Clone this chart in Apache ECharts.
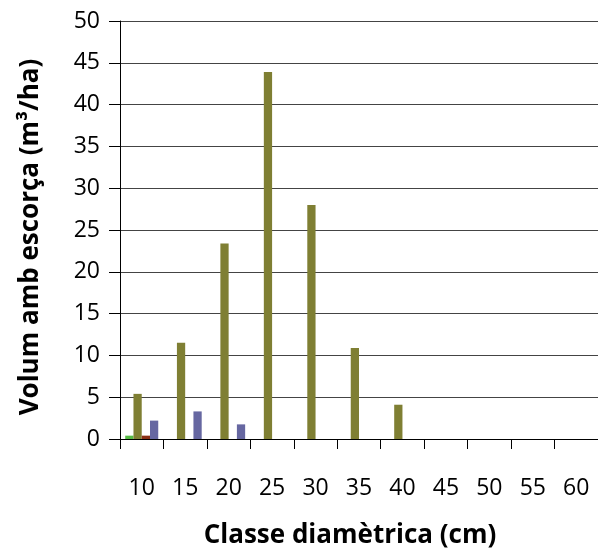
<!DOCTYPE html>
<html>
<head>
<meta charset="utf-8">
<script src="https://cdn.jsdelivr.net/npm/echarts@6/dist/echarts.min.js"></script>
<style>
  html, body { margin: 0; padding: 0; background: #fff; }
  #chart { width: 598px; height: 554px; }
</style>
</head>
<body>
<div id="chart"></div>
<script>
var classes = ['10', '15', '20', '25', '30', '35', '40', '45', '50', '55', '60'];
var greenVals = [0.4, null, null, null, null, null, null, null, null, null, null];
var oliveVals = [5.4, 11.5, 23.4, 43.9, 28.0, 10.9, 4.1, null, null, null, null];
var redVals = [0.4, null, null, null, null, null, null, null, null, null, null];
var blueVals = [2.2, 3.3, 1.75, null, null, null, null, null, null, null, null];

var font = '"Open Sans", "DejaVu Sans", sans-serif';

var chart = echarts.init(document.getElementById('chart'));

var option = {
    backgroundColor: '#fff',
    animation: false,
    grid: {
        left: 120,
        right: 0,
        top: 21,
        bottom: 112
    },
    xAxis: {
        type: 'category',
        data: classes,
        name: 'Classe diamètrica (cm)',
        nameLocation: 'middle',
        nameGap: 84,
        nameTextStyle: {
            fontFamily: font,
            fontSize: 26,
            fontWeight: 'bold',
            color: '#000',
            padding: [0, 18, 0, 0]
        },
        axisLine: { lineStyle: { color: '#000', width: 1 } },
        axisTick: { show: true, length: 10, lineStyle: { color: '#000' } },
        axisLabel: {
            margin: 38,
            fontFamily: font,
            fontSize: 23,
            color: '#000'
        },
        splitLine: { show: false }
    },
    yAxis: {
        type: 'value',
        min: 0,
        max: 50,
        interval: 5,
        name: 'Volum amb escorça (m³/ha)',
        nameLocation: 'middle',
        nameGap: 76,
        nameRotate: 90,
        nameTextStyle: {
            fontFamily: font,
            fontSize: 26,
            fontWeight: 'bold',
            color: '#000',
            padding: [0, 14, 0, 0]
        },
        axisLine: { show: true, lineStyle: { color: '#000', width: 1 } },
        axisTick: { show: true, length: 11, lineStyle: { color: '#000' } },
        axisLabel: {
            margin: 20,
            fontFamily: font,
            fontSize: 23,
            color: '#000'
        },
        splitLine: { show: true, lineStyle: { color: '#444', width: 1 } }
    },
    series: [
        {
            name: 'a',
            type: 'bar',
            data: greenVals,
            itemStyle: { color: '#55bb44' },
            barGap: '0%',
            barCategoryGap: '24%'
        },
        {
            name: 'b',
            type: 'bar',
            data: oliveVals,
            itemStyle: { color: '#7f7f33' }
        },
        {
            name: 'c',
            type: 'bar',
            data: redVals,
            itemStyle: { color: '#8b2f14' }
        },
        {
            name: 'd',
            type: 'bar',
            data: blueVals,
            itemStyle: { color: '#6667a1' }
        }
    ]
};

chart.setOption(option);
</script>
</body>
</html>
